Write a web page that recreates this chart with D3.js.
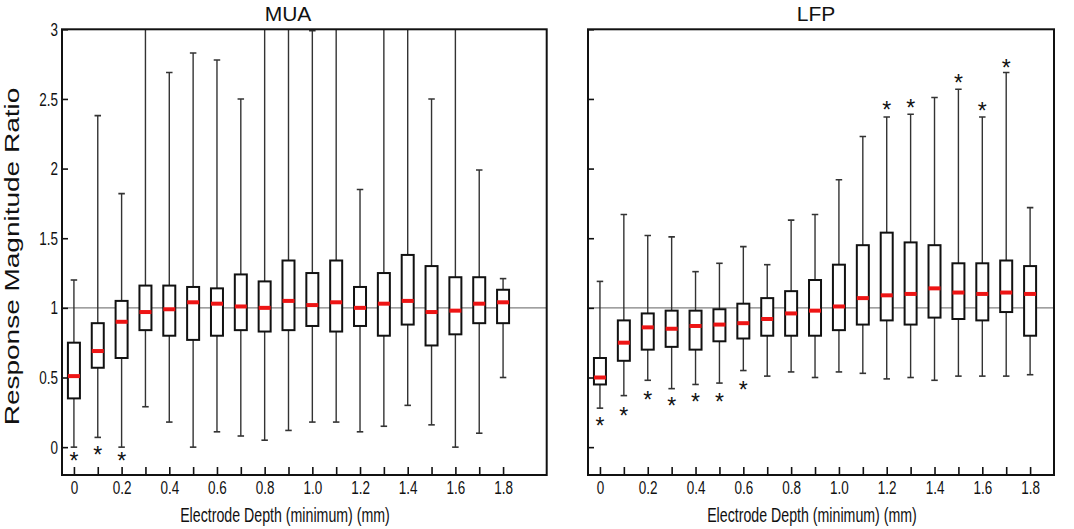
<!DOCTYPE html>
<html><head><meta charset="utf-8">
<script src="https://cdn.jsdelivr.net/npm/d3@7"></script>
<style>body{margin:0;background:#fff}svg{display:block}</style>
</head><body>
<svg id="c" width="1074" height="529"></svg>
<script>
// ---------- data ----------
const depths = [0,0.1,0.2,0.3,0.4,0.5,0.6,0.7,0.8,0.9,1.0,1.1,1.2,1.3,1.4,1.5,1.6,1.7,1.8];
const xTickLabels = ["0","0.2","0.4","0.6","0.8","1.0","1.2","1.4","1.6","1.8"];
const yTicks = [0,0.5,1,1.5,2,2.5,3];

// MUA (values above 3 run off the top of the plot)
const muaHigh   = [1.20,2.38,1.82,3.30,2.69,2.83,2.78,2.50,3.30,3.30,2.99,3.30,1.85,3.30,3.30,2.50,3.30,1.99,1.21];
const muaQ3     = [0.75,0.89,1.05,1.16,1.16,1.15,1.14,1.24,1.19,1.34,1.25,1.34,1.15,1.25,1.38,1.30,1.22,1.22,1.13];
const muaMedian = [0.51,0.69,0.90,0.97,0.99,1.04,1.03,1.01,1.00,1.05,1.02,1.04,1.00,1.03,1.05,0.97,0.98,1.03,1.04];
const muaQ1     = [0.35,0.57,0.64,0.84,0.80,0.77,0.80,0.84,0.83,0.84,0.87,0.83,0.87,0.80,0.88,0.73,0.81,0.89,0.89];
const muaLow    = [0.00,0.07,0.00,0.29,0.18,0.00,0.11,0.08,0.05,0.12,0.18,0.18,0.11,0.15,0.30,0.16,0.00,0.10,0.50];
const muaStarDepths = [0,0.1,0.2];
const muaStarValues = [-0.06,-0.015,-0.06];

// LFP
const lfpHigh   = [1.19,1.67,1.52,1.51,1.26,1.32,1.44,1.31,1.63,1.67,1.92,2.23,2.37,2.39,2.51,2.57,2.37,2.69,1.72];
const lfpQ3     = [0.64,0.91,0.96,0.98,0.98,0.99,1.03,1.07,1.12,1.20,1.31,1.45,1.54,1.47,1.45,1.32,1.32,1.34,1.30];
const lfpMedian = [0.50,0.75,0.86,0.85,0.87,0.88,0.89,0.92,0.96,0.98,1.01,1.07,1.09,1.10,1.14,1.11,1.10,1.11,1.10];
const lfpQ1     = [0.45,0.62,0.70,0.72,0.70,0.76,0.78,0.80,0.80,0.80,0.84,0.88,0.91,0.88,0.93,0.92,0.91,0.97,0.80];
const lfpLow    = [0.28,0.37,0.48,0.42,0.45,0.46,0.55,0.51,0.54,0.50,0.54,0.53,0.49,0.50,0.48,0.51,0.51,0.51,0.52];
const lfpStarDepths = [0,0.1,0.2,0.3,0.4,0.5,0.6,1.2,1.3,1.5,1.6,1.7];
const lfpStarValues = [0.19,0.26,0.38,0.335,0.365,0.365,0.45,2.46,2.47,2.65,2.45,2.76];

// ---------- drawing ----------
const SX = 0.71;          // horizontal squash of the original figure text
const FONT = "'Liberation Sans', Arial, sans-serif";
const svg = d3.select('#c');
const plotTop = 29.3, plotBottom = 475;
const y = d3.scaleLinear().domain([-0.2,3]).range([plotBottom, plotTop]);

const panels = [
  {id:'mua', title:'MUA', titleX:288, left:62, right:546.7, xDomain:[-0.05,1.983], labelX:285, showY:true,
   high:muaHigh,q3:muaQ3,med:muaMedian,q1:muaQ1,low:muaLow,starD:muaStarDepths,starV:muaStarValues},
  {id:'lfp', title:'LFP', titleX:816, left:588, right:1054, xDomain:[-0.05,1.9], labelX:812, showY:false,
   high:lfpHigh,q3:lfpQ3,med:lfpMedian,q1:lfpQ1,low:lfpLow,starD:lfpStarDepths,starV:lfpStarValues}
];

const BW = 12, CAP = 6.5, STAR = 23;

panels.forEach(p => {
  const x = d3.scaleLinear().domain(p.xDomain).range([p.left, p.right]);
  const g = svg.append('g');
  svg.append('clipPath').attr('id','clip-'+p.id).append('rect')
    .attr('x',p.left).attr('y',plotTop).attr('width',p.right-p.left).attr('height',plotBottom-plotTop);
  const pg = g.append('g').attr('clip-path',`url(#clip-${p.id})`);

  // reference line at 1
  pg.append('line').attr('x1',p.left).attr('x2',p.right).attr('y1',y(1)).attr('y2',y(1))
    .attr('stroke','#808080').attr('stroke-width',1.3);

  const rows = depths.map((d,i)=>({d, hi:p.high[i], q3:p.q3[i], med:p.med[i], q1:p.q1[i], lo:p.low[i]}));
  const bx = pg.selectAll('g.b').data(rows).enter().append('g').attr('class','b');
  // whiskers
  bx.append('line').attr('x1',r=>x(r.d)).attr('x2',r=>x(r.d)).attr('y1',r=>y(r.q3)).attr('y2',r=>y(r.hi))
    .attr('stroke','#333').attr('stroke-width',1.4);
  bx.append('line').attr('x1',r=>x(r.d)).attr('x2',r=>x(r.d)).attr('y1',r=>y(r.q1)).attr('y2',r=>y(r.lo))
    .attr('stroke','#333').attr('stroke-width',1.4);
  // caps
  bx.append('line').attr('x1',r=>x(r.d)-CAP/2).attr('x2',r=>x(r.d)+CAP/2).attr('y1',r=>y(r.hi)).attr('y2',r=>y(r.hi))
    .attr('stroke','#333').attr('stroke-width',1.6);
  bx.append('line').attr('x1',r=>x(r.d)-CAP/2).attr('x2',r=>x(r.d)+CAP/2).attr('y1',r=>y(r.lo)).attr('y2',r=>y(r.lo))
    .attr('stroke','#333').attr('stroke-width',1.6);
  // boxes
  bx.append('rect').attr('x',r=>x(r.d)-BW/2).attr('width',BW)
    .attr('y',r=>y(r.q3)).attr('height',r=>y(r.q1)-y(r.q3))
    .attr('fill','#fff').attr('stroke','#111').attr('stroke-width',2);
  // medians
  bx.append('line').attr('x1',r=>x(r.d)-BW/2).attr('x2',r=>x(r.d)+BW/2).attr('y1',r=>y(r.med)).attr('y2',r=>y(r.med))
    .attr('stroke','#ee1515').attr('stroke-width',4);

  // asterisks
  g.selectAll('text.star').data(p.starD.map((d,i)=>({d,v:p.starV[i]}))).enter().append('text')
    .attr('class','star').attr('x',s=>x(s.d)).attr('y',s=>y(s.v)+0.58*STAR)
    .attr('text-anchor','middle').attr('font-family',FONT).attr('font-size',STAR).attr('fill','#111').text('*');

  // axes
  const xa = d3.axisBottom(x).tickValues(depths).tickSizeInner(-8).tickSizeOuter(0).tickPadding(6)
    .tickFormat((d,i)=> i%2===0 ? xTickLabels[i/2] : '');
  const gx = g.append('g').attr('transform',`translate(0,${plotBottom})`).call(xa);
  const ya = d3.axisLeft(y).tickValues(yTicks).tickSizeInner(-6).tickSizeOuter(0)
    .tickFormat(p.showY ? d3.format('') : ()=> '');
  const gy = g.append('g').attr('transform',`translate(${p.left},0)`).call(ya);
  [gx,gy].forEach(a=>{
    a.select('.domain').remove();
    a.selectAll('.tick line').attr('stroke','#111').attr('stroke-width',1.6);
    a.selectAll('.tick text').attr('font-family',FONT).attr('font-size',19).attr('fill','#111');
  });
  gx.selectAll('.tick text').attr('transform',`scale(${SX},1)`);
  gy.selectAll('.tick text').attr('x',-4/SX).attr('transform',`scale(${SX},1)`);

  // frame
  g.append('rect').attr('x',p.left).attr('y',plotTop).attr('width',p.right-p.left).attr('height',plotBottom-plotTop)
    .attr('fill','none').attr('stroke','#111').attr('stroke-width',2);

  // title
  g.append('text').attr('x',p.titleX).attr('y',21).attr('text-anchor','middle')
    .attr('font-family',FONT).attr('font-size',21).attr('fill','#111').text(p.title);
  // x axis label
  g.append('text').attr('transform',`translate(${p.labelX},521.5) scale(${SX},1)`).attr('text-anchor','middle')
    .attr('font-family',FONT).attr('font-size',20).attr('fill','#111').text('Electrode Depth (minimum) (mm)');
});

// y label
svg.append('text').attr('transform',`translate(18.5,256.5) scale(${SX},1) rotate(-90)`).attr('text-anchor','middle')
  .attr('font-family',FONT).attr('font-size',28).attr('fill','#111').text('Response Magnitude Ratio');
</script>
</body></html>
